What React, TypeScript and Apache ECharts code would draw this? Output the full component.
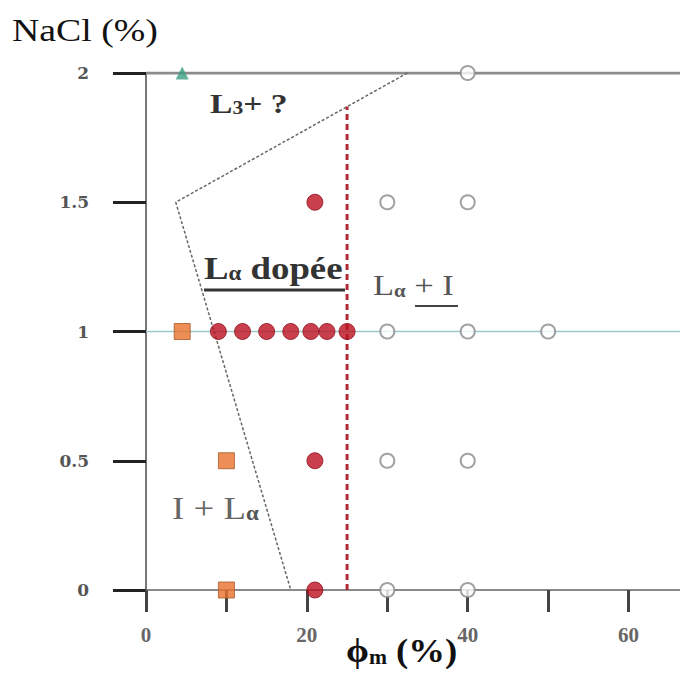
import React, { useEffect, useRef } from "react";
import * as echarts from "echarts";

// ---- data (phi_m %, NaCl %) ----
const xLabels = [0, 20, 40, 60];
const yTicks = [0, 0.5, 1, 1.5, 2];

const triangles: number[][] = [[4.5, 2]];
const squares: number[][] = [[4.5, 1], [10, 0.5], [10, 0]];
const redDots: number[][] = [
  [9, 1], [12, 1], [15, 1], [18, 1], [20.5, 1], [22.5, 1], [25, 1],
  [21, 1.5], [21, 0.5], [21, 0],
];
const openDots: number[][] = [
  [30, 0], [40, 0], [30, 0.5], [40, 0.5], [30, 1], [40, 1], [50, 1],
  [30, 1.5], [40, 1.5], [40, 2],
];
const boundary: number[][] = [[32.5, 2], [3.7, 1.5], [18, 0]];
const dopedLimit: number[][] = [[25, 0], [25, 1.87]];
const topLine: number[][] = [[0, 2], [70, 2]];
const midLine: number[][] = [[0, 1], [70, 1]];

const SERIF = '"Liberation Serif", "Times New Roman", serif';

export default function App() {
  const ref = useRef<HTMLDivElement>(null);
  useEffect(() => {
    if (!ref.current) return;
    const chart = echarts.init(ref.current, null, { renderer: "svg" });
    chart.setOption({
      animation: false,
      backgroundColor: "#ffffff",
      grid: { left: 146, right: 0, top: 73, bottom: 83 },
      xAxis: {
        type: "value",
        min: 0,
        max: 70,
        interval: 10,
        splitLine: { show: false },
        axisLine: { show: true, lineStyle: { color: "#8a8a8a", width: 2 } },
        axisTick: { show: true, length: 22, lineStyle: { color: "#444", width: 3 } },
        axisLabel: {
          margin: 34,
          fontFamily: SERIF,
          fontSize: 21,
          fontWeight: "bold",
          color: "#666",
          formatter: (v: number) => (xLabels.includes(v) ? String(v) : ""),
        },
      },
      yAxis: {
        type: "value",
        min: 0,
        max: 2,
        interval: 0.5,
        splitLine: { show: false },
        axisLine: { show: true, lineStyle: { color: "#777", width: 2 } },
        axisTick: { show: true, length: 33, lineStyle: { color: "#222", width: 3 } },
        axisLabel: {
          margin: 57,
          fontFamily: '"DejaVu Serif", serif',
          fontSize: 17,
          fontWeight: "bold",
          color: "#555",
          formatter: (v: number) => (yTicks.includes(v) ? String(v) : ""),
        },
      },
      series: [
        {
          type: "line", data: topLine, symbol: "none", silent: true,
          lineStyle: { color: "#8c8c8c", width: 3 }, z: 1,
        },
        {
          type: "line", data: midLine, symbol: "none", silent: true,
          lineStyle: { color: "#9cc9c9", width: 1.5 }, z: 1,
        },
        {
          type: "line", data: boundary, symbol: "none", silent: true,
          lineStyle: { color: "#666", width: 1.5, type: [3, 2] }, z: 2,
        },
        {
          type: "line", data: dopedLimit, symbol: "none", silent: true,
          lineStyle: { color: "#b02a35", width: 3, type: [6, 4] }, z: 2,
        },
        {
          type: "scatter", data: triangles, symbol: "triangle", symbolSize: 13,
          itemStyle: { color: "#3a9f80" }, z: 5,
        },
        {
          type: "scatter", data: squares, symbol: "rect", symbolSize: 16,
          itemStyle: { color: "#e8722c", borderColor: "#a85a28", borderWidth: 1 }, z: 5,
        },
        {
          type: "scatter", data: redDots, symbol: "circle", symbolSize: 16,
          itemStyle: { color: "#bc101f", borderColor: "#8e1020", borderWidth: 1 }, z: 5,
        },
        {
          type: "scatter", data: openDots, symbol: "circle", symbolSize: 14,
          itemStyle: { color: "#ffffff", borderColor: "#8a8a8a", borderWidth: 2 }, z: 5,
        },
      ],
      graphic: [
        {
          type: "text", x: 12, y: 15, scaleX: 1.22,
          style: { text: "NaCl (%)", fontFamily: SERIF, fontSize: 31, fill: "#111", verticalAlign: "top" },
        },
        {
          type: "text", x: 346, y: 633, scaleX: 1.08,
          style: {
            text: "{a|ϕ}{s|m}{a| (%)}",
            verticalAlign: "top",
            rich: {
              a: { fontFamily: SERIF, fontSize: 34, fontWeight: "bold", fill: "#111", verticalAlign: "bottom" },
              s: { fontFamily: SERIF, fontSize: 20, fontWeight: "bold", fill: "#111", verticalAlign: "bottom" },
            },
          },
        },
        {
          type: "text", x: 210, y: 89, scaleX: 1.2,
          style: {
            text: "{a|L}{s|3}{a|+ ?}",
            verticalAlign: "top",
            rich: {
              a: { fontFamily: SERIF, fontSize: 28, fontWeight: "bold", fill: "#333", verticalAlign: "bottom" },
              s: { fontFamily: SERIF, fontSize: 18, fontWeight: "bold", fill: "#333", verticalAlign: "bottom" },
            },
          },
        },
        {
          type: "text", x: 204, y: 252, scaleX: 1.15,
          style: {
            text: "{a|L}{s|α}{a| dopée}",
            verticalAlign: "top",
            rich: {
              a: { fontFamily: SERIF, fontSize: 32, fontWeight: "bold", fill: "#333", verticalAlign: "bottom" },
              s: { fontFamily: SERIF, fontSize: 20, fontWeight: "bold", fill: "#333", verticalAlign: "bottom" },
            },
          },
        },
        { type: "line", shape: { x1: 204, y1: 290, x2: 345, y2: 290 }, style: { stroke: "#333", lineWidth: 3 } },
        {
          type: "text", x: 373, y: 270, scaleX: 1.15,
          style: {
            text: "{a|L}{s|α}{a| + I}",
            verticalAlign: "top",
            rich: {
              a: { fontFamily: SERIF, fontSize: 30, fill: "#555", verticalAlign: "bottom" },
              s: { fontFamily: SERIF, fontSize: 18, fontWeight: "bold", fill: "#555", verticalAlign: "bottom" },
            },
          },
        },
        { type: "line", shape: { x1: 415, y1: 306, x2: 458, y2: 306 }, style: { stroke: "#444", lineWidth: 2 } },
        {
          type: "text", x: 172, y: 492, scaleX: 1.15,
          style: {
            text: "{a|I + L}{s|α}",
            verticalAlign: "top",
            rich: {
              a: { fontFamily: SERIF, fontSize: 32, fill: "#666", verticalAlign: "bottom" },
              s: { fontFamily: SERIF, fontSize: 20, fontWeight: "bold", fill: "#555", verticalAlign: "bottom" },
            },
          },
        },
      ],
    });
    return () => chart.dispose();
  }, []);
  return (
    <div style={{ position: "fixed", left: 0, top: 0, width: 680, height: 673, overflow: "hidden", background: "#fff" }}>
      <div ref={ref} style={{ width: 712, height: 673 }} />
    </div>
  );
}
